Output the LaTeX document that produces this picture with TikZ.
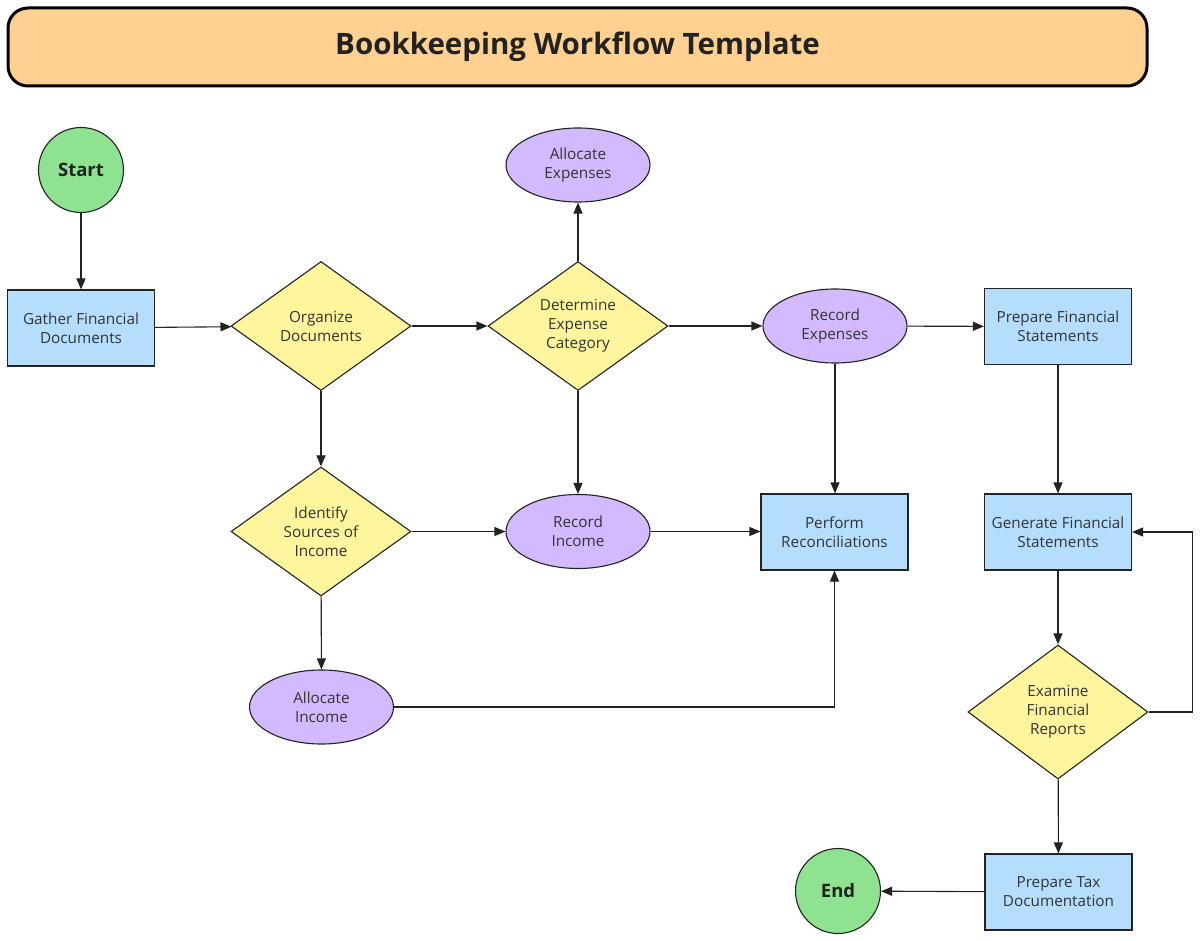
\documentclass[tikz,border=0pt]{standalone}
\usepackage{fontspec}
\setmainfont{Open Sans}
\usetikzlibrary{shapes.geometric,arrows.meta}
\definecolor{cblue}{HTML}{B5DEFE}
\definecolor{cyellow}{HTML}{FEF59D}
\definecolor{cpurple}{HTML}{D3BAFE}
\definecolor{cgreen}{HTML}{8FE290}
\definecolor{corange}{HTML}{FED190}
\definecolor{cline}{HTML}{222222}
\definecolor{ctext}{HTML}{333333}
\tikzset{
  base/.style={draw=cline, line width=1.1pt, text=ctext, font=\fontsize{15.3}{19}\selectfont, align=center, inner sep=0pt},
  procbox/.style={base, rectangle, fill=cblue, minimum width=147pt, minimum height=76pt},
  decbox/.style={base, diamond, fill=cyellow, minimum width=180pt, minimum height=129pt},
  ovalbox/.style={base, ellipse, fill=cpurple, minimum width=144pt, minimum height=74pt},
  termbox/.style={base, circle, fill=cgreen, minimum size=85pt, font=\fontsize{18.5}{20}\selectfont\bfseries, text=cline},
  conn/.style={draw=cline, line width=1.1pt, -{Triangle[length=11pt,width=9pt]}},
}
\begin{document}
\begin{tikzpicture}[x=1pt,y=-1pt]
\useasboundingbox (0,0) rectangle (1200,941);
\node[draw=black, line width=3pt, fill=corange, rounded corners=20pt, minimum width=1139pt, minimum height=78pt, inner sep=0pt, font=\fontsize{29.5}{32}\selectfont\bfseries, text=cline] (title) at (577.5,47) {Bookkeeping Workflow Template};

\node[termbox] (start) at (81,170) {Start};
\node[procbox] (gather) at (81,328) {Gather Financial\\Documents};
\node[decbox] (organize) at (321,326) {Organize\\Documents};
\node[decbox] (determine) at (578,326) {Determine\\Expense\\Category};
\node[ovalbox] (allocexp) at (578,165) {Allocate\\Expenses};
\node[ovalbox] (recexp) at (835,326) {Record\\Expenses};
\node[procbox] (prepfs) at (1058,326.5) {Prepare Financial\\Statements};
\node[decbox] (identify) at (321,531.5) {Identify\\Sources of\\Income};
\node[ovalbox] (recinc) at (578,531.5) {Record\\Income};
\node[procbox] (perform) at (834.5,532) {Perform\\Reconciliations};
\node[procbox] (genfs) at (1058,532) {Generate Financial\\Statements};
\node[ovalbox] (allocinc) at (321.5,707) {Allocate\\Income};
\node[decbox, minimum height=134pt] (examine) at (1058,712) {Examine\\Financial\\Reports};
\node[procbox] (preptax) at (1058.5,892) {Prepare Tax\\Documentation};
\node[termbox] (end) at (838,891) {End};

\draw[conn] (start) -- (gather);
\draw[conn] (gather) -- (organize);
\draw[conn] (organize) -- (determine);
\draw[conn] (determine) -- (allocexp);
\draw[conn] (determine) -- (recexp);
\draw[conn] (recexp) -- (prepfs);
\draw[conn] (organize) -- (identify);
\draw[conn] (determine.south) -- (recinc.north);
\draw[conn] (identify) -- (recinc);
\draw[conn] (recexp.south) -- (recexp.south |- perform.north);
\draw[conn] (recinc) -- (recinc -| perform.west);
\draw[conn] (identify) -- (allocinc);
\draw[conn] (allocinc.east) -- (allocinc.east -| perform.south) -- (perform.south);
\draw[conn] (prepfs) -- (genfs);
\draw[conn] (genfs) -- (examine);
\draw[conn] (examine.east) -- ++(44,0) |- (genfs.east);
\draw[conn] (examine) -- (preptax);
\draw[conn] (preptax) -- (end);
\end{tikzpicture}
\end{document}
